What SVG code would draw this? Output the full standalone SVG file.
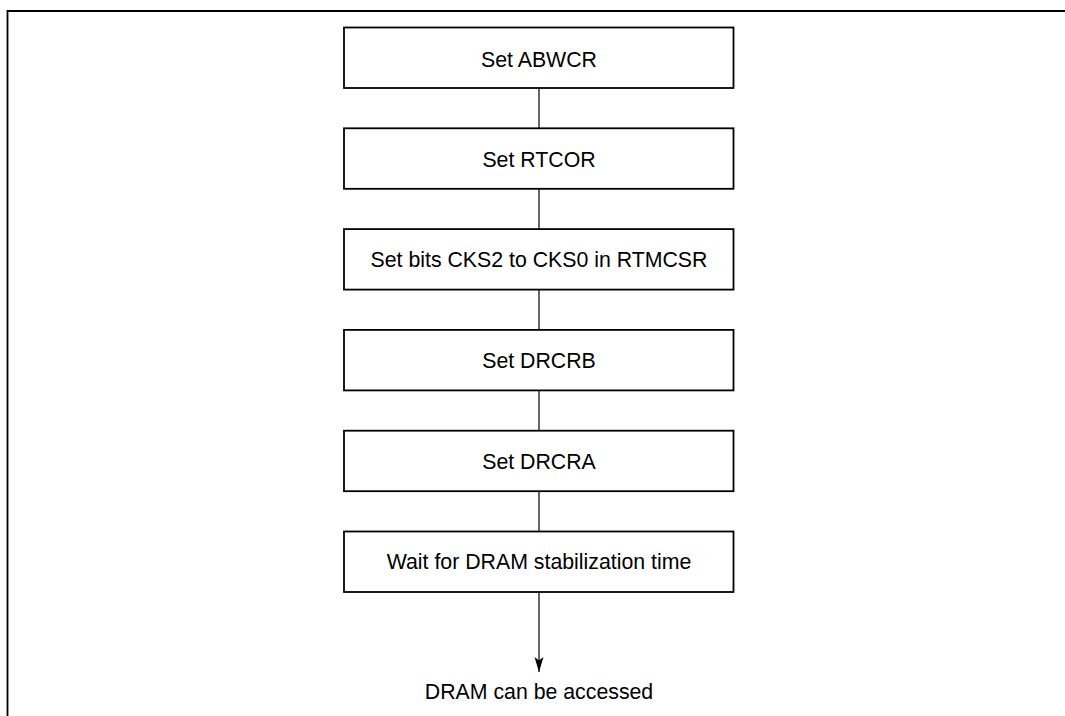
<svg xmlns="http://www.w3.org/2000/svg" width="1065" height="716" viewBox="0 0 1065 716">
<style>
.frame{fill:none;stroke:#000;stroke-width:1.8}
.box{fill:#fff;stroke:#000;stroke-width:1.8}
.lbl{font-family:"Liberation Sans",Arial,sans-serif;font-size:21.3px;fill:#000;text-anchor:middle}
.conn{fill:none;stroke:#000;stroke-width:1.2}
</style>
<defs>
<marker id="arr" viewBox="0 0 15 10" refX="15" refY="5" markerWidth="15" markerHeight="10" markerUnits="userSpaceOnUse" orient="auto">
<path d="M0,0.5 L15,5 L0,9.5 L3.5,5 Z" fill="#000"/>
</marker>
</defs>
<path class="frame" d="M7.5,716 V11 H1065"/>
<g id="connectors">
<line class="conn" x1="539" y1="88" x2="539" y2="128"/>
<line class="conn" x1="539" y1="189" x2="539" y2="229"/>
<line class="conn" x1="539" y1="290" x2="539" y2="330"/>
<line class="conn" x1="539" y1="390" x2="539" y2="431"/>
<line class="conn" x1="539" y1="491" x2="539" y2="532"/>
<line class="conn" x1="539" y1="592" x2="539" y2="672" marker-end="url(#arr)"/>
</g>
<g id="n1"><rect class="box" x="344" y="27.5" width="389.5" height="60.5"/><text class="lbl" x="539" y="66.5">Set ABWCR</text></g>
<g id="n2"><rect class="box" x="344" y="128.3" width="389.5" height="60.5"/><text class="lbl" x="539" y="166.8">Set RTCOR</text></g>
<g id="n3"><rect class="box" x="344" y="229.1" width="389.5" height="60.5"/><text class="lbl" x="539" y="266.5">Set bits CKS2 to CKS0 in RTMCSR</text></g>
<g id="n4"><rect class="box" x="344" y="329.9" width="389.5" height="60.5"/><text class="lbl" x="539" y="367.8">Set DRCRB</text></g>
<g id="n5"><rect class="box" x="344" y="430.7" width="389.5" height="60.5"/><text class="lbl" x="539" y="468.6">Set DRCRA</text></g>
<g id="n6"><rect class="box" x="344" y="531.5" width="389.5" height="60.5"/><text class="lbl" x="539" y="569.4">Wait for DRAM stabilization time</text></g>
<g id="end"><text class="lbl" x="539" y="699">DRAM can be accessed</text></g>
</svg>
